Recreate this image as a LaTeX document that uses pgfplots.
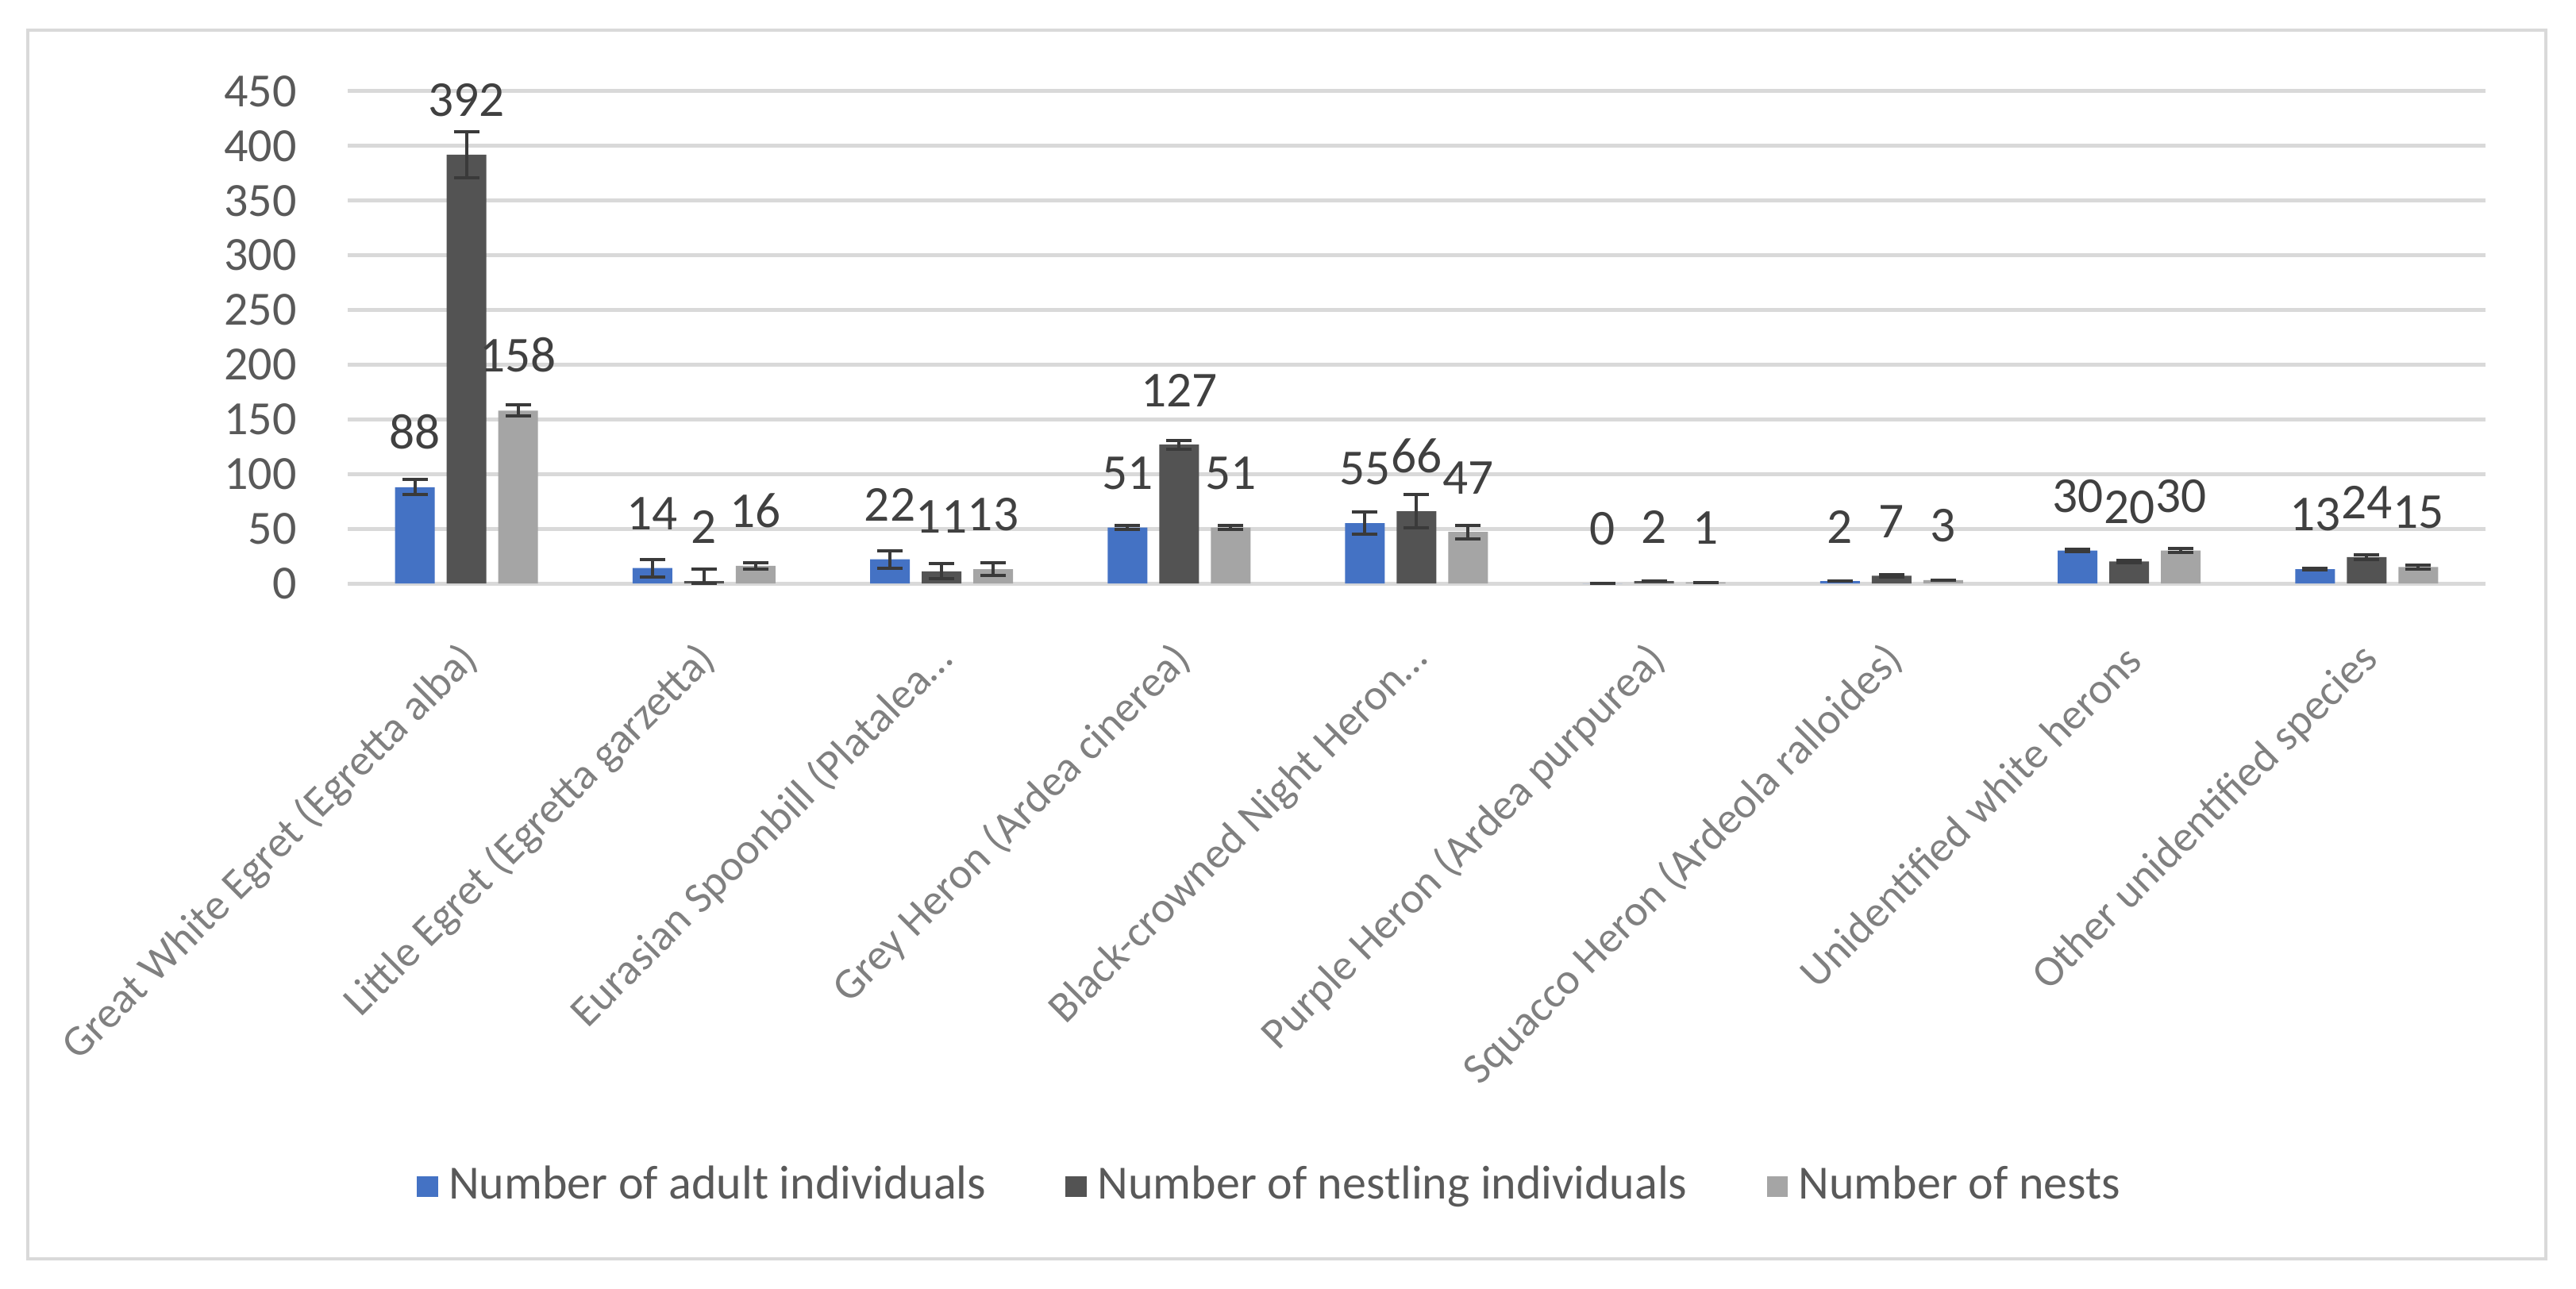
\documentclass[border=0pt]{standalone}
\usepackage{fontspec}
\setmainfont{Carlito}
\usepackage{pgfplots}
\pgfplotsset{compat=1.18}
\definecolor{adultblue}{HTML}{4472C4}
\definecolor{nestdark}{HTML}{535353}
\definecolor{nestgray}{HTML}{A5A5A5}
\definecolor{gridgray}{HTML}{D9D9D9}
\definecolor{txtgray}{HTML}{595959}
\definecolor{labgray}{HTML}{404040}
\definecolor{catgray}{HTML}{808080}
\definecolor{errcol}{HTML}{3A3A3A}

\begin{document}
\begin{tikzpicture}
\path[use as bounding box] (0,0) rectangle (486.75pt,243.45pt);
% chart area border
\draw[gridgray, line width=0.6pt] (5.25pt,5.55pt) rectangle (481.05pt,237.75pt);
\begin{axis}[
		at={(65.7pt,133.2pt)}, anchor=south west,
		scale only axis, width=403.95pt, height=93pt,
		ybar=2.25pt, bar width=7.5pt,
		xmin=-0.5, xmax=8.5, ymin=0, ymax=450,
		xtick={0,...,8},
		xticklabels={
				Great White Egret (Egretta alba),
				Little Egret (Egretta garzetta),
				Eurasian Spoonbill (Platalea…,
				Grey Heron (Ardea cinerea),
				Black-crowned Night Heron…,
				Purple Heron (Ardea purpurea),
				Squacco Heron (Ardeola ralloides),
				Unidentified white herons,
				Other unidentified species},
		ytick={0,50,...,450},
		ymajorgrids, grid style={gridgray, line width=0.75pt},
		axis line style={draw=none}, major tick length=0pt,
		/pgf/number format/assume math mode=true,
		yticklabel style={font=\fontsize{9}{11}\selectfont, text=txtgray, anchor=east, inner sep=0pt, xshift=-9.45pt},
		xticklabel style={xshift=1pt, yshift=-13pt, rotate=45, anchor=east, inner sep=0pt, font=\fontsize{8.25}{10}\selectfont, text=catgray},
		nodes near coords,
		nodes near coords style={font=\fontsize{9.5}{11}\selectfont, text=labgray, anchor=south, inner sep=0pt, yshift=7pt},
		legend columns=3,
		legend style={draw=none, fill=none, at={(0.432,-1.2258)}, anchor=center,
				font=\fontsize{9}{11}\selectfont, text=txtgray,
				nodes={inner sep=1pt},
				/tikz/every odd column/.append style={column sep=1pt},
				/tikz/every even column/.append style={column sep=14pt}},
		legend image code/.code={\fill[#1] (0pt,-2pt) rectangle (4pt,2pt);},
		clip=false,
	]

	\addplot[fill=adultblue, draw=none,
		error bars/.cd, y dir=both, y explicit,
		error bar style={errcol, line width=0.6pt},
		error mark options={errcol, rotate=90, mark size=2.4pt, line width=0.6pt},
	] coordinates {
			(0,88) +- (0,7)
			(1,14) +- (0,8)
			(2,22) +- (0,8)
			(3,51) +- (0,2)
			(4,55) +- (0,10)
			(5,0) +- (0,0)
			(6,2) +- (0,0)
			(7,30) +- (0,1)
			(8,13) +- (0,1)
		};
	\addlegendentry{Number of adult individuals}

	\addplot[fill=nestdark, draw=none,
		error bars/.cd, y dir=both, y explicit,
		error bar style={errcol, line width=0.6pt},
		error mark options={errcol, rotate=90, mark size=2.4pt, line width=0.6pt},
	] coordinates {
			(0,392) +- (0,21)
			(1,2) += (0,11) -= (0,2)
			(2,11) +- (0,7)
			(3,127) +- (0,4)
			(4,66) +- (0,15)
			(5,2) +- (0,0)
			(6,7) +- (0,1)
			(7,20) +- (0,1)
			(8,24) +- (0,2)
		};
	\addlegendentry{Number of nestling individuals}

	\addplot[fill=nestgray, draw=none,
		error bars/.cd, y dir=both, y explicit,
		error bar style={errcol, line width=0.6pt},
		error mark options={errcol, rotate=90, mark size=2.4pt, line width=0.6pt},
	] coordinates {
			(0,158) +- (0,5)
			(1,16) +- (0,3)
			(2,13) +- (0,6)
			(3,51) +- (0,2)
			(4,47) +- (0,6)
			(5,1) +- (0,0)
			(6,3) +- (0,0)
			(7,30) +- (0,2)
			(8,15) +- (0,2)
		};
	\addlegendentry{Number of nests}

\end{axis}
\end{tikzpicture}
\end{document}
